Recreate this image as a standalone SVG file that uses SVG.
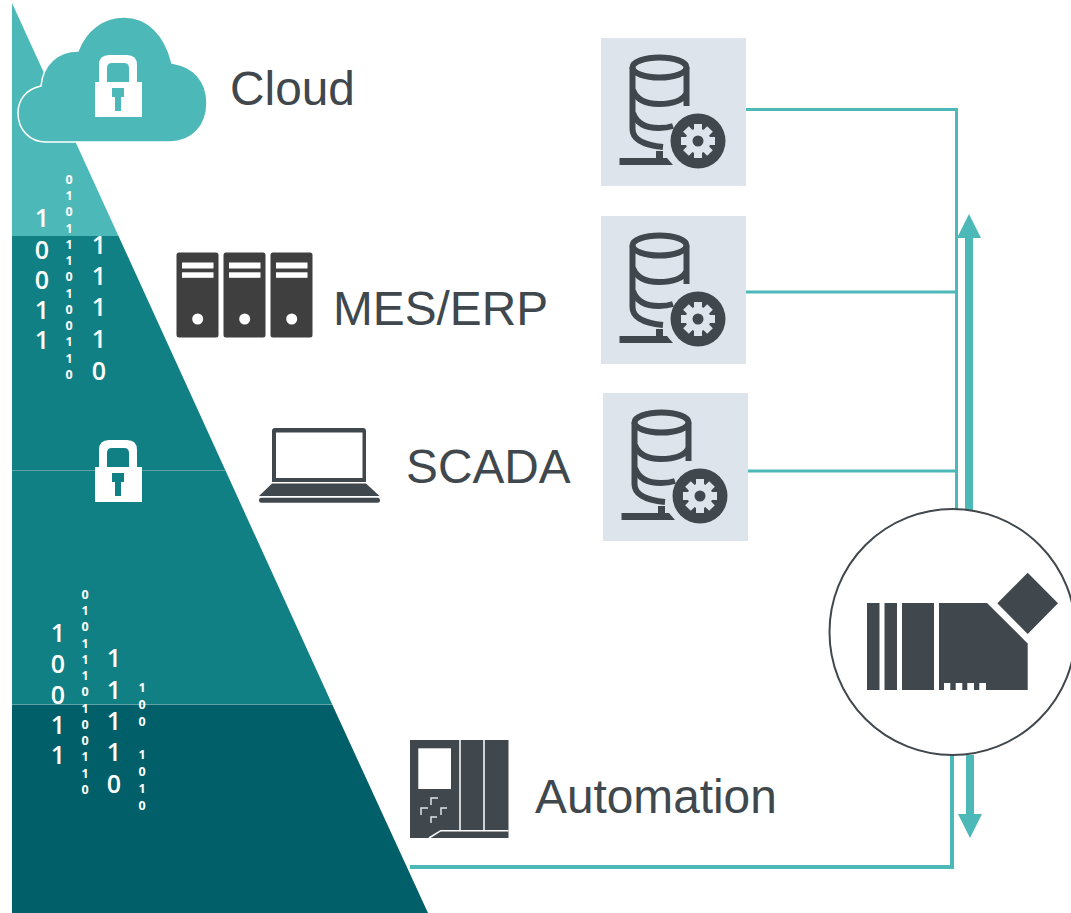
<svg xmlns="http://www.w3.org/2000/svg" xmlns:xlink="http://www.w3.org/1999/xlink" width="1071" height="913" viewBox="0 0 1071 913">
<style>
.lbl{font-family:"Liberation Sans",Arial,sans-serif;font-size:47.800px;fill:#40484d}
.big{font-family:"Open Sans",sans-serif;font-size:25px;font-weight:600;fill:#fff;text-anchor:middle}
.sm{font-family:"Open Sans",sans-serif;font-size:12.500px;font-weight:700;fill:#fff;text-anchor:middle}
.dk{fill:#40484d}
.wire{fill:none;stroke:#4db8b8;stroke-width:3}
.thick{fill:none;stroke:#4db8b8;stroke-width:8}
.head{fill:#4db8b8}
.sv{fill:#3f3f3f}
.wh{fill:#fff}
.div{stroke:#5fa3a6;stroke-width:1}
</style>
<defs>
<g id="lock">
<path fill="#fff" fill-rule="evenodd" d="M95 82H99V65Q99 55 109 55H127Q137 55 137 65V82H142V117H95ZM107 82H129V68Q129 63 124 63H112Q107 63 107 68Z"/>
<path d="M112 88H124V97H121V111H115V97H112Z"/>
</g>
<g id="db">
<rect width="145" height="148" fill="#dee4ec"/>
<g fill="none" stroke="#40484d" stroke-width="6">
<ellipse cx="58.500" cy="29.500" rx="27" ry="10"/>
<path d="M31.500 29.500V91Q31.500 106 62 109"/>
<path d="M85.500 29.500V68"/>
<path d="M32 52Q37 66 58 66T85 56"/>
<path d="M32 75Q37 90 58 90Q66 90 72 88"/>
</g>
<rect x="55" y="113" width="7" height="8" class="dk"/>
<path class="dk" d="M18.500 120H66L72 127H18.500Z"/>
<circle cx="97" cy="103" r="27.500" class="dk"/>
<g fill="#dee4ec">
<circle cx="97" cy="103" r="12.500"/>
<g id="t"><rect x="93" y="86" width="8" height="34"/><rect x="80" y="99" width="34" height="8"/></g>
<use xlink:href="#t" href="#t" transform="rotate(45 97 103)"/>
</g>
<circle cx="97" cy="103" r="5.500" class="dk"/>
</g>
<g id="srv">
<rect x="176.500" y="252.500" width="42" height="85" rx="2.500" class="sv"/>
<rect x="182" y="262.500" width="31.500" height="6" class="wh"/>
<rect x="182" y="272.300" width="31.500" height="5.500" class="wh"/>
<circle cx="197.700" cy="319" r="5.500" class="wh"/>
</g>
</defs>

<g id="pyramid">
<path fill="#4db8b8" d="M12 3L118.500 236H12Z"/>
<path fill="#108085" d="M12 236H118.500L332 704H12Z"/>
<path fill="#005f68" d="M12 704H332L428 913H12Z"/>
<path class="div" d="M12 470.500H225M12 704.500H332"/>
</g>

<g id="bits-top">
<text class="big" x="42" y="227">1</text><text class="big" x="42" y="259">0</text><text class="big" x="42" y="289">0</text><text class="big" x="42" y="319">1</text><text class="big" x="42" y="349">1</text>
<text class="big" x="99" y="254">1</text><text class="big" x="99" y="285">1</text><text class="big" x="99" y="316">1</text><text class="big" x="99" y="348">1</text><text class="big" x="99" y="380">0</text>
<text class="sm" x="69" y="184">0</text><text class="sm" x="69" y="200">1</text><text class="sm" x="69" y="216">0</text><text class="sm" x="69" y="233">1</text><text class="sm" x="69" y="249">1</text><text class="sm" x="69" y="265">1</text><text class="sm" x="69" y="281">0</text><text class="sm" x="69" y="298">1</text><text class="sm" x="69" y="314">0</text><text class="sm" x="69" y="330">0</text><text class="sm" x="69" y="346">1</text><text class="sm" x="69" y="363">1</text><text class="sm" x="69" y="379">0</text>
</g>
<g id="bits-bottom">
<text class="big" x="58" y="642">1</text><text class="big" x="58" y="673">0</text><text class="big" x="58" y="704">0</text><text class="big" x="58" y="734">1</text><text class="big" x="58" y="764">1</text>
<text class="big" x="114" y="667">1</text><text class="big" x="114" y="699">1</text><text class="big" x="114" y="730">1</text><text class="big" x="114" y="761">1</text><text class="big" x="114" y="793">0</text>
<text class="sm" x="85" y="599">0</text><text class="sm" x="85" y="615">1</text><text class="sm" x="85" y="631">0</text><text class="sm" x="85" y="648">1</text><text class="sm" x="85" y="664">1</text><text class="sm" x="85" y="680">1</text><text class="sm" x="85" y="696">0</text><text class="sm" x="85" y="713">1</text><text class="sm" x="85" y="729">0</text><text class="sm" x="85" y="745">0</text><text class="sm" x="85" y="761">1</text><text class="sm" x="85" y="778">1</text><text class="sm" x="85" y="794">0</text>
<text class="sm" x="142" y="692">1</text><text class="sm" x="142" y="709">0</text><text class="sm" x="142" y="726">0</text><text class="sm" x="142" y="759">1</text><text class="sm" x="142" y="776">0</text><text class="sm" x="142" y="793">1</text><text class="sm" x="142" y="810">0</text>
</g>

<g id="connectors">
<path class="wire" d="M746 109.500H956.500V512M746 292H956M748 471H956"/>
<path class="thick" d="M969 236V512"/>
<path class="head" d="M957 238L969 214L981 238Z"/>
<path d="M410 867H952V755" fill="none" stroke="#4db8b8" stroke-width="4"/>
<path class="thick" d="M970 755V816"/>
<path class="head" d="M958 814H982L970 838Z"/>
</g>

<g id="cloud">
<path fill="#4db8b8" stroke="#fff" stroke-width="1.500" d="M46 142H170C192 142 207 126 207 103C207 81 193 66 172 63C165 35 148 17 124 17C103 17 86 30 78 51C58 51 43 64 41 86C26 89 18 100 18 113C18 130 30 142 46 142Z"/>
<use xlink:href="#lock" href="#lock" fill="#4db8b8"/>
<text class="lbl" x="230" y="105">Cloud</text>
</g>

<g id="mes-erp">
<use xlink:href="#srv" href="#srv"/>
<use xlink:href="#srv" href="#srv" x="47"/>
<use xlink:href="#srv" href="#srv" x="94"/>
<text class="lbl" x="333" y="325">MES/ERP</text>
</g>

<g id="lock-mid">
<use xlink:href="#lock" href="#lock" y="385" fill="#108085"/>
</g>

<g id="scada">
<path class="dk" fill-rule="evenodd" d="M272 431Q272 428 275 428H363Q366 428 366 431V482H272ZM276 432.500V478H362.500V432.500Z"/>
<path class="dk" d="M272 483.500H366L379.500 496H259Z"/>
<rect x="259" y="497.700" width="121" height="5" rx="2.500" class="dk"/>
<text class="lbl" x="406" y="483">SCADA</text>
</g>

<g id="db1"><use xlink:href="#db" href="#db" x="601" y="38"/></g>
<g id="db2"><use xlink:href="#db" href="#db" x="601" y="216"/></g>
<g id="db3"><use xlink:href="#db" href="#db" x="603" y="393"/></g>

<g id="automation">
<rect x="410" y="740" width="98.500" height="98" class="dk"/>
<rect x="418.300" y="748.300" width="32.700" height="40.700" class="wh"/>
<path fill="none" stroke="#fff" stroke-width="1.500" d="M460 740V830.700M484 740V830.700M429 838L440.700 830.700H508.500"/>
<path fill="none" stroke="#dfe3e5" stroke-width="1.500" d="M438 798H431V805M421 815V808H428M447 808H441V815M431 823V817H437"/>
<text class="lbl" x="535" y="813">Automation</text>
</g>

<g id="device">
<circle cx="952.500" cy="632" r="123" fill="#fff" stroke="#40484d" stroke-width="2"/>
<rect x="867" y="603" width="12.500" height="87" class="dk"/>
<rect x="884.500" y="603" width="12.500" height="87" class="dk"/>
<rect x="902" y="603" width="32" height="87" class="dk"/>
<path class="dk" d="M939 603H987L1027.700 643.500V690H939Z"/>
<path class="wh" d="M944 683H950.300V690H944ZM955.700 683H962.300V690H955.700ZM967.300 683H974V690H967.300ZM979.300 683H986V690H979.300Z"/>
<path class="dk" d="M1027.700 572.700L1058 603.300L1027.700 634L997.300 603.300Z"/>
</g>
</svg>
